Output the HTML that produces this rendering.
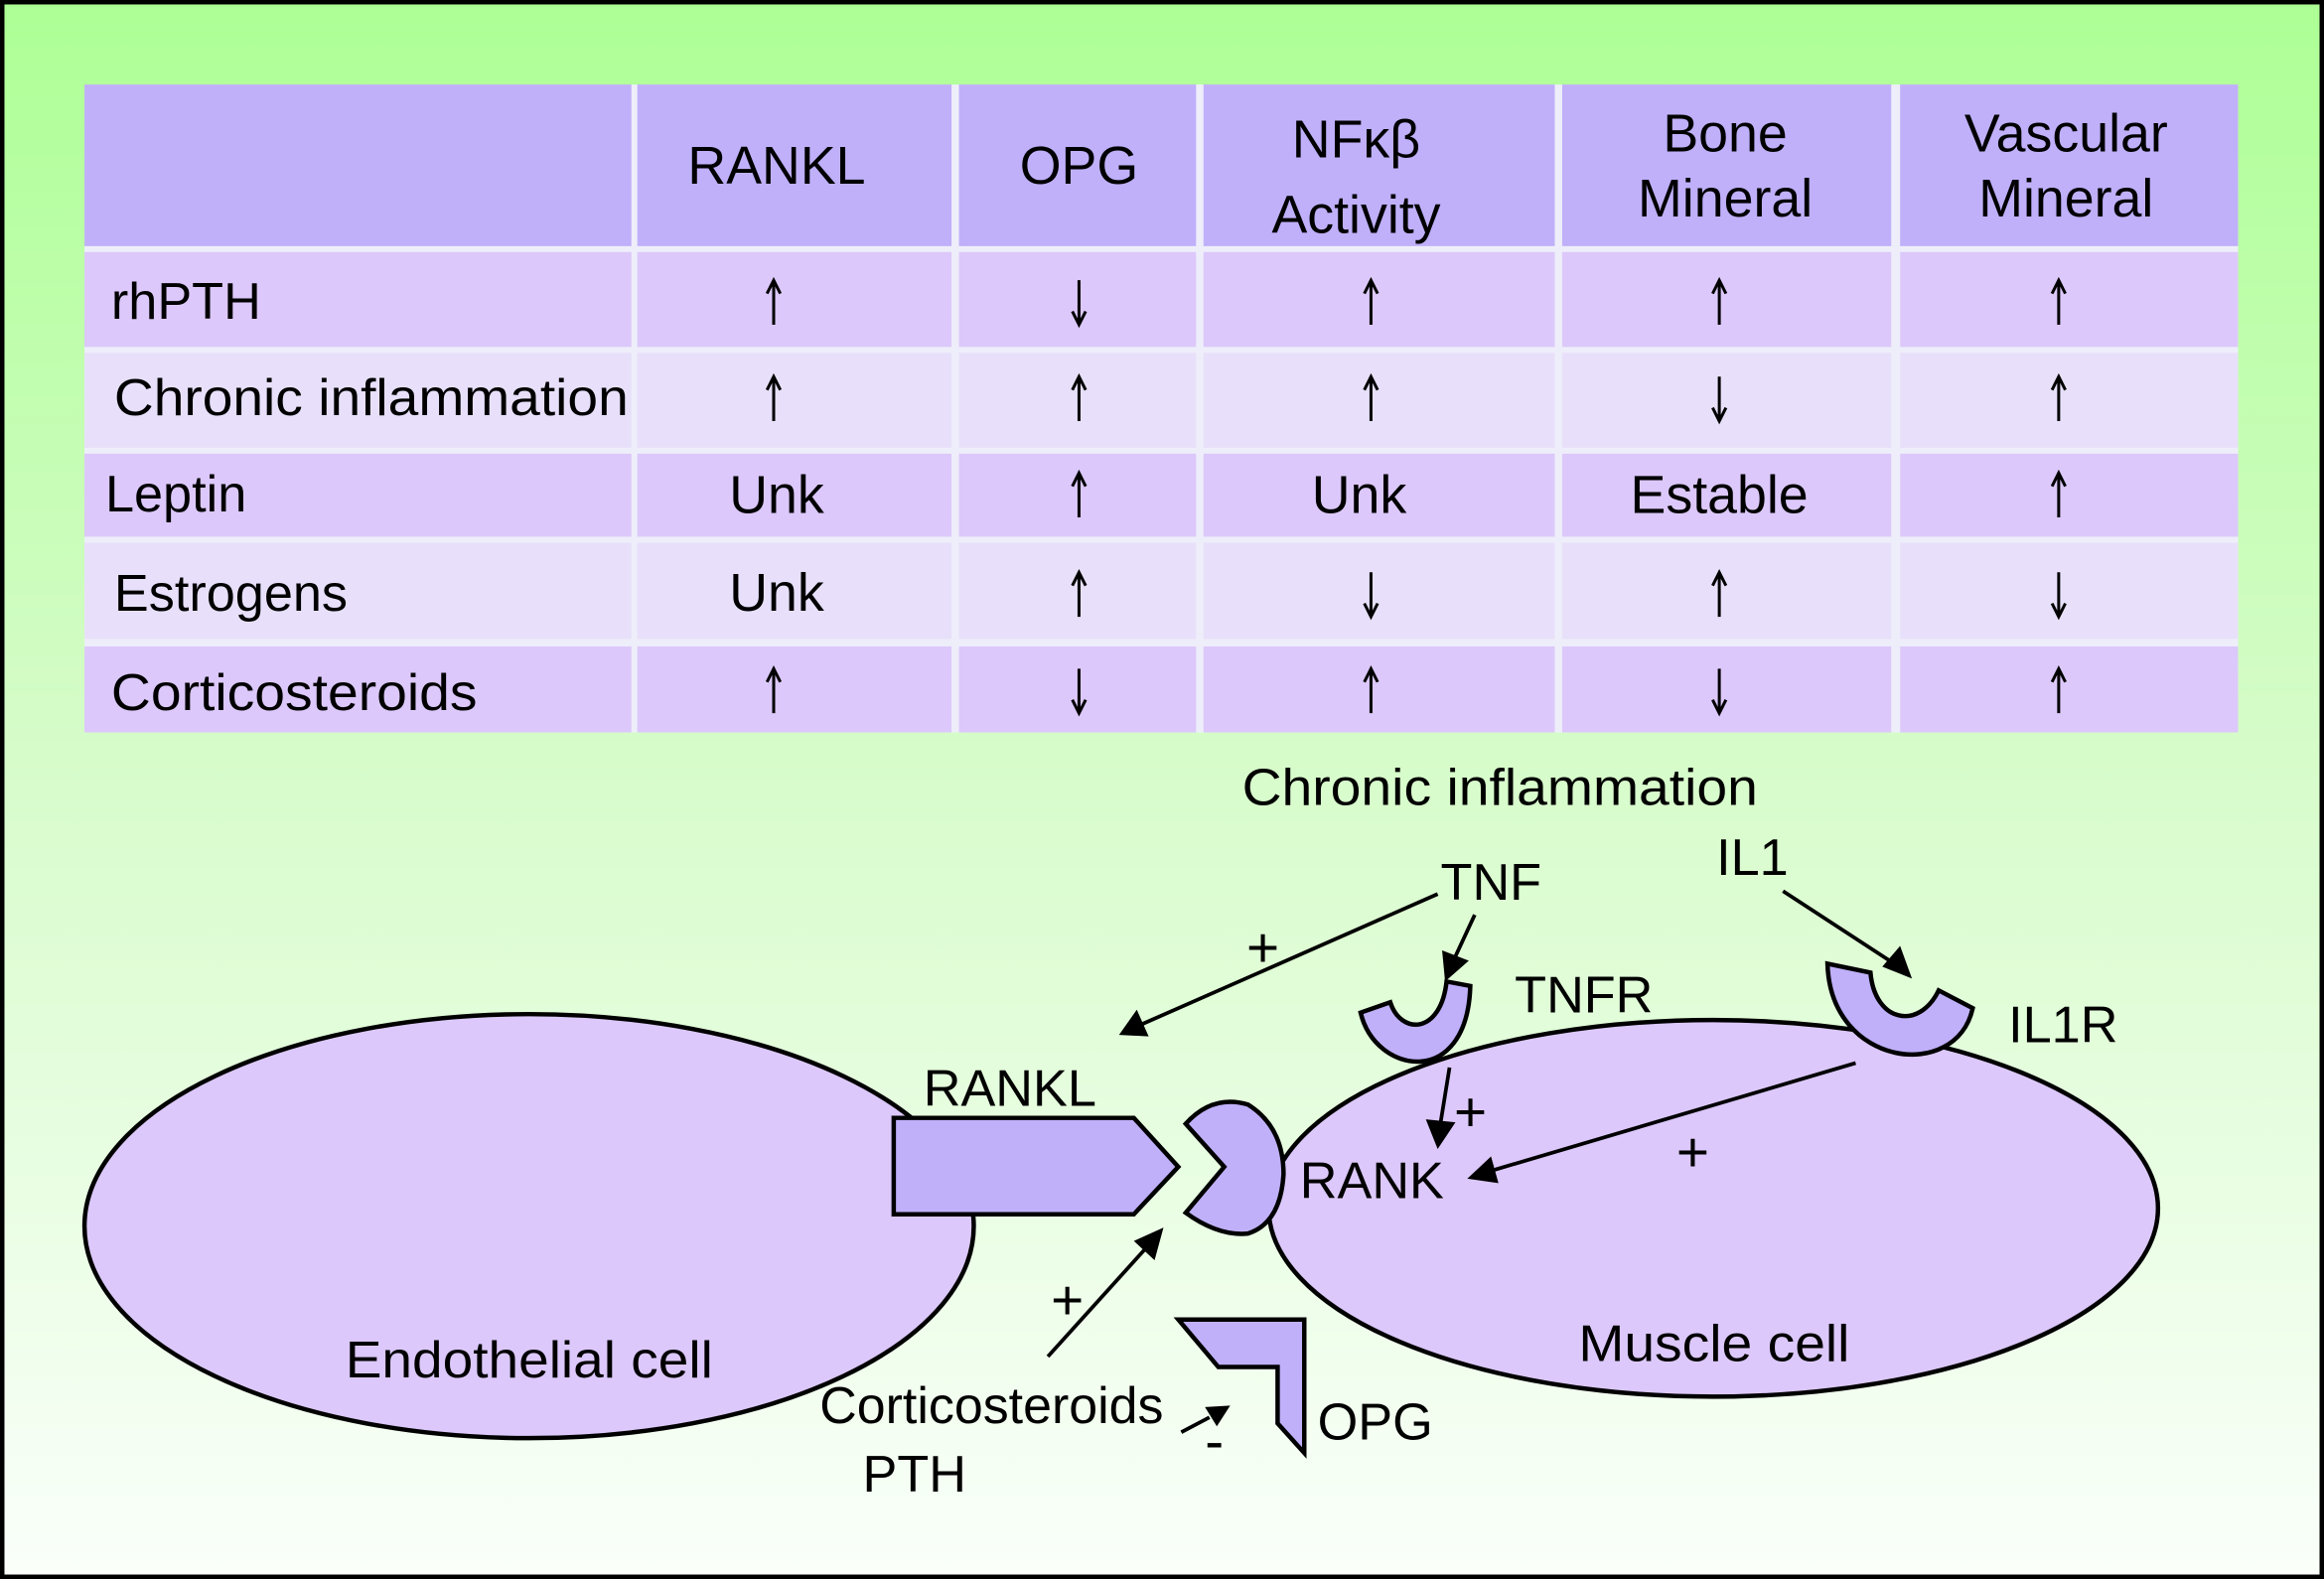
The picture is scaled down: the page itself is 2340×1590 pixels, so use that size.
<!DOCTYPE html>
<html><head><meta charset="utf-8"><style>
html,body{margin:0;padding:0;}
svg{display:block;}
text{font-family:"Liberation Sans","DejaVu Sans",sans-serif;fill:#000;}
</style></head><body>
<svg width="2340" height="1590" viewBox="0 0 1568 1065" preserveAspectRatio="none" xmlns="http://www.w3.org/2000/svg">
<defs>
<linearGradient id="bg" x1="0" y1="0" x2="0" y2="1">
<stop offset="0" stop-color="#adff95"/><stop offset="0.5" stop-color="#d8fccc"/><stop offset="1" stop-color="#fafffa"/>
</linearGradient>
<g id="up"><path d="M0,-15 L0,15 M-4.5,-6 L0,-15 L4.5,-6" stroke="#000" stroke-width="2" fill="none"/></g>
<g id="dn"><path d="M0,15 L0,-15 M-4.5,6 L0,15 L4.5,6" stroke="#000" stroke-width="2" fill="none"/></g>
</defs>
<rect x="1.5" y="1.5" width="1565" height="1062" fill="url(#bg)" stroke="#000" stroke-width="3"/>
<rect x="57" y="57" width="1453" height="437" fill="#eeeefa"/>
<g fill="#c0b0fa">
<rect x="57" y="57" width="369" height="109"/><rect x="430" y="57" width="212" height="109"/><rect x="647" y="57" width="160" height="109"/><rect x="812" y="57" width="237" height="109"/><rect x="1054" y="57" width="222" height="109"/><rect x="1282" y="57" width="228" height="109"/>
</g>
<g fill="#dcc8fa">
<rect x="57" y="170" width="369" height="64"/><rect x="430" y="170" width="212" height="64"/><rect x="647" y="170" width="160" height="64"/><rect x="812" y="170" width="237" height="64"/><rect x="1054" y="170" width="222" height="64"/><rect x="1282" y="170" width="228" height="64"/>
</g>
<g fill="#e8e0fa">
<rect x="57" y="238" width="369" height="64"/><rect x="430" y="238" width="212" height="64"/><rect x="647" y="238" width="160" height="64"/><rect x="812" y="238" width="237" height="64"/><rect x="1054" y="238" width="222" height="64"/><rect x="1282" y="238" width="228" height="64"/>
</g>
<g fill="#dcc8fa">
<rect x="57" y="306" width="369" height="56"/><rect x="430" y="306" width="212" height="56"/><rect x="647" y="306" width="160" height="56"/><rect x="812" y="306" width="237" height="56"/><rect x="1054" y="306" width="222" height="56"/><rect x="1282" y="306" width="228" height="56"/>
</g>
<g fill="#e8e0fa">
<rect x="57" y="366" width="369" height="65"/><rect x="430" y="366" width="212" height="65"/><rect x="647" y="366" width="160" height="65"/><rect x="812" y="366" width="237" height="65"/><rect x="1054" y="366" width="222" height="65"/><rect x="1282" y="366" width="228" height="65"/>
</g>
<g fill="#dcc8fa">
<rect x="57" y="436" width="369" height="58"/><rect x="430" y="436" width="212" height="58"/><rect x="647" y="436" width="160" height="58"/><rect x="812" y="436" width="237" height="58"/><rect x="1054" y="436" width="222" height="58"/><rect x="1282" y="436" width="228" height="58"/>
</g>
<g font-size="36" text-anchor="middle">
<text x="524" y="124">RANKL</text><text x="728" y="124">OPG</text>
<text x="915" y="106">NFκβ</text><text x="915" y="157">Activity</text>
<text x="1164" y="102">Bone</text><text x="1164" y="146">Mineral</text>
<text x="1394" y="102">Vascular</text><text x="1394" y="146">Mineral</text>
</g>
<g font-size="35">
<text x="75" y="215">rhPTH</text>
<text x="77" y="280" textLength="347" lengthAdjust="spacingAndGlyphs">Chronic inflammation</text>
<text x="71" y="345">Leptin</text>
<text x="77" y="412">Estrogens</text>
<text x="75" y="479" textLength="247" lengthAdjust="spacingAndGlyphs">Corticosteroids</text>
</g>
<use href="#up" x="522" y="204"/><use href="#dn" x="728" y="204"/><use href="#up" x="925" y="204"/><use href="#up" x="1160" y="204"/><use href="#up" x="1389" y="204"/>
<use href="#up" x="522" y="269"/><use href="#up" x="728" y="269"/><use href="#up" x="925" y="269"/><use href="#dn" x="1160" y="269"/><use href="#up" x="1389" y="269"/>
<use href="#up" x="728" y="334"/><use href="#up" x="1389" y="334"/>
<use href="#up" x="728" y="401"/><use href="#dn" x="925" y="401"/><use href="#up" x="1160" y="401"/><use href="#dn" x="1389" y="401"/>
<use href="#up" x="522" y="466"/><use href="#dn" x="728" y="466"/><use href="#up" x="925" y="466"/><use href="#dn" x="1160" y="466"/><use href="#up" x="1389" y="466"/>
<g font-size="36" text-anchor="middle">
<text x="524" y="346">Unk</text><text x="917" y="346">Unk</text><text x="1160" y="346">Estable</text>
<text x="524" y="412">Unk</text>
</g>
<g stroke="#000" stroke-width="3">
<ellipse cx="357" cy="827" rx="300" ry="143" fill="#dcc8fa"/>
<ellipse cx="1156" cy="815" rx="300" ry="127" fill="#dcc8fa"/>
<polygon points="603,754 765,754 795,787 765,819 603,819" fill="#c0b0fa"/>
<path d="M800,758 Q818,738 842,745 Q866,760 866,792 Q864,825 842,832 Q822,834 800,818 L826,787 Z" fill="#c0b0fa"/>
<path d="M918,683 C928,725 990,735 992,665 L976,662 C972,698 945,698 938,676 Z" fill="#c0b0fa"/>
<path d="M1233,650 C1235,720 1320,730 1331,680 L1308,668 C1295,695 1265,690 1262,656 Z" fill="#c0b0fa"/>
<polygon points="795,890 880,890 880,980 862,960 862,922 822,922" fill="#c0b0fa"/>
</g>
<g stroke="#000" stroke-width="2.5" fill="none">
<line x1="970" y1="603" x2="770" y2="691"/>
<line x1="995" y1="617" x2="982" y2="645"/>
<line x1="978" y1="720" x2="972" y2="757"/>
<line x1="1203" y1="601" x2="1275" y2="648"/>
<line x1="1252" y1="717" x2="1005" y2="790"/>
<line x1="707" y1="915" x2="773" y2="842"/>
<line x1="797" y1="966" x2="816" y2="956"/>
</g>
<g fill="#000">
<polygon points="755,698 767,681 775,699"/>
<polygon points="975,662 973,641 991,648"/>
<polygon points="970,775 962,755 982,757"/>
<polygon points="1290,660 1270,652 1282,638"/>
<polygon points="990,795 1006,780 1011,798"/>
<polygon points="785,828 779,850 765,837"/>
<polygon points="830,948 813,949 821,962"/>
</g>
<g font-size="35">
<text x="838" y="543" textLength="348" lengthAdjust="spacingAndGlyphs">Chronic inflammation</text>
<text x="972" y="607">TNF</text>
<text x="1158" y="590">IL1</text>
<text x="1022" y="683">TNFR</text>
<text x="1355" y="703">IL1R</text>
<text x="623" y="746">RANKL</text>
<text x="877" y="808">RANK</text>
<text x="233" y="929" textLength="248" lengthAdjust="spacingAndGlyphs">Endothelial cell</text>
<text x="1065" y="918" textLength="183" lengthAdjust="spacingAndGlyphs">Muscle cell</text>
<text x="553" y="960" textLength="232" lengthAdjust="spacingAndGlyphs">Corticosteroids</text>
<text x="582" y="1006">PTH</text>
<text x="889" y="971">OPG</text>
<text x="841" y="652" font-size="38">+</text>
<text x="981" y="763" font-size="38">+</text>
<text x="1131" y="790" font-size="38">+</text>
<text x="709" y="890" font-size="38">+</text>
<text x="813" y="985" font-size="38">-</text>
</g>
</svg>
</body></html>
